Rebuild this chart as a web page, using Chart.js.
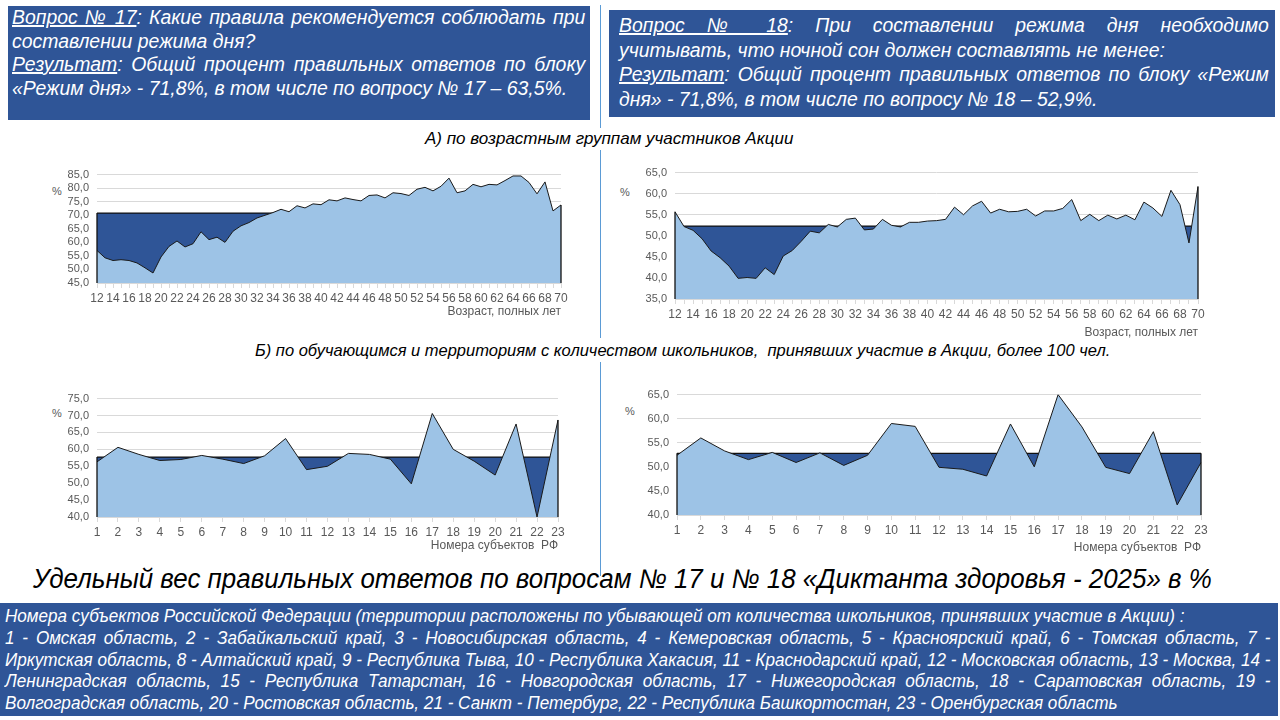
<!DOCTYPE html>
<html lang="ru">
<head>
<meta charset="utf-8">
<title>Диктант здоровья - 2025</title>
<script src="https://cdn.jsdelivr.net/npm/chart.js@4.4.1/dist/chart.umd.min.js"></script>
<style>
  html, body { margin: 0; padding: 0; background: #fff; }
  body { width: 1280px; height: 720px; position: relative; overflow: hidden;
         font-family: "Liberation Sans", "DejaVu Sans", sans-serif; }
  .box { position: absolute; background: #2F5597; color: #fff; font-style: italic; box-sizing: border-box; overflow: hidden; }
  .cond { transform-origin: left top; }
  .ln { white-space: nowrap; }
  .j { text-align: justify; text-align-last: justify; }
  .note { position: absolute; font-style: italic; color: #000; white-space: nowrap; transform-origin: left top; }
  .pct { position: absolute; font-size: 11px; color: #595959; }
  .chart { position: absolute; }
  .vline { position: absolute; left: 600px; width: 1px; background: #5B9BD5; }
</style>
</head>
<body>

<div class="box" style="left:8px;top:6px;width:582px;height:114px;padding:0 5px 0 4px;font-size:20px;line-height:23.5px;">
  <div class="cond" style="width:591px;transform:scaleX(0.97);">
    <div class="ln j"><u>Вопрос № 17</u>: Какие правила рекомендуется соблюдать при</div>
    <div class="ln">составлении режима дня?</div>
    <div class="ln j"><u>Результат</u>: Общий процент правильных ответов по блоку</div>
    <div class="ln">«Режим дня» - 71,8%, в том числе по вопросу № 17 – 63,5%.</div>
  </div>
</div>

<div class="box" style="left:609px;top:10px;width:666px;height:107px;padding:3px 6px 0 10px;font-size:20px;line-height:24.7px;">
  <div class="cond" style="width:670px;transform:scaleX(0.97);">
    <div class="ln j"><u>Вопрос № 18</u>: При составлении режима дня необходимо</div>
    <div class="ln">учитывать, что ночной сон должен составлять не менее:</div>
    <div class="ln j"><u>Результат</u>: Общий процент правильных ответов по блоку «Режим</div>
    <div class="ln">дня» - 71,8%, в том числе по вопросу № 18 – 52,9%.</div>
  </div>
</div>

<div class="vline" style="top:5px;height:123px;"></div>
<div class="vline" style="top:150px;height:188px;"></div>
<div class="vline" style="top:362px;height:214px;"></div>

<div class="note" style="left:425px;top:129px;font-size:17px;">А) по возрастным группам участников Акции</div>
<div class="note" style="left:255px;top:341px;font-size:17px;transform:scaleX(0.97);">Б) по обучающимся и территориям с количеством школьников,&nbsp; принявших участие в Акции, более 100 чел.</div>

<div class="pct" style="left:52px;top:185px;">%</div>
<div class="pct" style="left:620px;top:186px;">%</div>
<div class="pct" style="left:52px;top:407px;">%</div>
<div class="pct" style="left:625px;top:405px;">%</div>

<div class="chart" style="left:40px;top:160px;width:540px;height:159px;"><canvas id="c1"></canvas></div>
<div class="chart" style="left:615px;top:158px;width:600px;height:182px;"><canvas id="c2"></canvas></div>
<div class="chart" style="left:40px;top:384px;width:540px;height:169px;"><canvas id="c3"></canvas></div>
<div class="chart" style="left:615px;top:380px;width:600px;height:175px;"><canvas id="c4"></canvas></div>

<div class="note" style="left:33px;top:564px;font-size:27px;transform:scaleX(0.96);">Удельный вес правильных ответов по вопросам № 17 и № 18 «Диктанта здоровья - 2025» в %</div>

<div class="box" style="left:0;top:603px;width:1278px;height:113px;padding:3px 6px 0 5px;font-size:18px;line-height:21.8px;">
  <div class="cond" style="width:1332px;transform:scaleX(0.95);">
    <div class="ln">Номера субъектов Российской Федерации (территории расположены по убывающей от количества школьников, принявших участие в Акции) :</div>
    <div class="ln j">1 - Омская область, 2 - Забайкальский край, 3 - Новосибирская область, 4 - Кемеровская область, 5 - Красноярский край, 6 - Томская область, 7 -</div>
    <div class="ln j">Иркутская область, 8 - Алтайский край, 9 - Республика Тыва, 10 - Республика Хакасия, 11 - Краснодарский край, 12 - Московская область, 13 - Москва, 14 -</div>
    <div class="ln j">Ленинградская область, 15 - Республика Татарстан, 16 - Новгородская область, 17 - Нижегородская область, 18 - Саратовская область, 19 -</div>
    <div class="ln">Волгоградская область, 20 - Ростовская область, 21 - Санкт - Петербург, 22 - Республика Башкортостан, 23 - Оренбургская область</div>
  </div>
</div>

<script>
// возраст, полных лет
var ages = [12, 13, 14, 15, 16, 17, 18, 19, 20, 21, 22, 23, 24, 25, 26, 27, 28, 29, 30,
            31, 32, 33, 34, 35, 36, 37, 38, 39, 40, 41, 42, 43, 44, 45, 46, 47, 48, 49, 50,
            51, 52, 53, 54, 55, 56, 57, 58, 59, 60, 61, 62, 63, 64, 65, 66, 67, 68, 69, 70];
// номера субъектов РФ
var regions = [1, 2, 3, 4, 5, 6, 7, 8, 9, 10, 11, 12, 13, 14, 15, 16, 17, 18, 19, 20, 21, 22, 23];

// вопрос 17 по возрасту, %
var q17ByAge = [57.0, 54.3, 53.3, 53.6, 53.3, 52.4, 50.6, 48.7, 54.6, 58.5, 60.5, 58.3, 59.5, 63.9, 61.0, 61.9, 60.0, 64.1, 66.1,
                67.3, 69.0, 70.0, 71.0, 72.2, 71.3, 73.5, 72.7, 74.2, 73.9, 75.7, 75.3, 76.4, 75.8, 75.3, 77.3, 77.5, 76.4, 78.3, 78.0,
                77.3, 79.6, 80.3, 79.0, 80.7, 83.7, 78.3, 79.0, 81.4, 80.5, 81.4, 81.2, 82.8, 84.5, 84.5, 82.1, 77.9, 82.3, 71.6, 73.8];
var q17AgeLevel = 70.8;

// вопрос 18 по возрасту, %
var q18ByAge = [55.7, 52.2, 51.3, 49.3, 46.4, 44.8, 42.8, 39.9, 40.1, 39.9, 42.4, 40.8, 45.2, 46.5, 48.7, 51.1, 50.7, 52.7, 52.1,
                53.9, 54.2, 51.4, 51.6, 53.9, 52.5, 52.1, 53.2, 53.2, 53.5, 53.6, 53.9, 56.8, 55.0, 57.1, 58.2, 55.4, 56.3, 55.7, 55.8,
                56.3, 54.7, 55.9, 55.9, 56.5, 58.6, 53.6, 55.1, 53.6, 54.9, 54.0, 54.9, 53.8, 58.0, 56.6, 54.6, 60.8, 57.4, 48.3, 61.7];
var q18AgeLevel = 52.3;

// по субъектам РФ, %
var q17ByRegion = [56.3, 60.6, 58.5, 56.7, 57.0, 58.2, 57.1, 55.8, 58.1, 63.2, 54.0, 55.0, 58.8, 58.5, 57.1, 49.8, 70.6, 60.0, 56.5, 52.4, 67.5, 40.0, 68.7];
var q17RegionLevel = 57.7;
var q18ByRegion = [52.4, 56.0, 53.3, 51.5, 53.0, 50.9, 52.9, 50.3, 52.4, 59.0, 58.4, 49.9, 49.5, 48.1, 58.9, 50.0, 65.0, 58.3, 49.9, 48.6, 57.3, 42.1, 50.9];
var q18RegionLevel = 52.8;

var LIGHT = "#9DC3E6";
var DARK = "#2F5597";
var GRID = "#D9D9D9";
var TEXT = "#595959";

Chart.defaults.font.family = '"Liberation Sans", "DejaVu Sans", sans-serif';
Chart.defaults.color = TEXT;

// чёрные вертикали по краям областей, как в Excel
var edgePlugin = {
    id: "edges",
    afterDatasetsDraw: function (chart) {
        var ctx = chart.ctx;
        var bottom = chart.chartArea.bottom;
        var a = chart.getDatasetMeta(0).data;
        var b = chart.getDatasetMeta(1).data;
        [0, a.length - 1].forEach(function (i) {
            ctx.save();
            ctx.strokeStyle = "#111";
            ctx.lineWidth = 1.3;
            ctx.beginPath();
            ctx.moveTo(a[i].x, bottom);
            ctx.lineTo(a[i].x, Math.min(a[i].y, b[i].y));
            ctx.stroke();
            ctx.restore();
        });
    }
};

var makeChart = function (id, labels, values, level, yMin, yMax, cfg) {
    var levelLine = labels.map(function () { return level; });
    return new Chart(document.getElementById(id).getContext("2d"), {
        type: "line",
        data: {
            labels: labels,
            datasets: [
                {
                    data: values,
                    fill: "start",
                    backgroundColor: LIGHT,
                    borderColor: "#1a1a1a",
                    borderWidth: 1,
                    pointRadius: 0,
                    tension: 0
                },
                {
                    data: levelLine,
                    fill: "start",
                    backgroundColor: DARK,
                    borderColor: "#111",
                    borderWidth: 1.2,
                    pointRadius: 0,
                    tension: 0
                }
            ]
        },
        options: {
            responsive: true,
            maintainAspectRatio: false,
            animation: false,
            layout: { padding: { top: 14, right: cfg.padRight, left: 0, bottom: 0 } },
            plugins: { legend: { display: false }, tooltip: { enabled: false } },
            scales: {
                x: {
                    grid: { display: true, drawOnChartArea: false, drawTicks: true, tickLength: 5, color: GRID },
                    border: { display: true, color: GRID },
                    ticks: {
                        autoSkip: false,
                        maxRotation: 0,
                        padding: 3,
                        font: { size: 12 },
                        callback: function (v, i) {
                            return (cfg.everyOther && i % 2 === 1) ? "" : this.getLabelForValue(v);
                        }
                    },
                    title: {
                        display: true,
                        text: cfg.xTitle,
                        align: "end",
                        color: TEXT,
                        font: { size: 12 },
                        padding: { top: 0, bottom: 0 }
                    },
                    afterFit: function (scale) { scale.height = cfg.xHeight; }
                },
                y: {
                    min: yMin,
                    max: yMax,
                    grid: { color: GRID, drawTicks: false },
                    border: { display: false },
                    ticks: {
                        stepSize: 5,
                        autoSkip: false,
                        padding: 8,
                        font: { size: 11 },
                        callback: function (v) { return v.toFixed(1).replace(".", ","); }
                    },
                    afterFit: function (scale) { scale.width = cfg.yWidth; }
                }
            }
        },
        plugins: [edgePlugin]
    });
};

makeChart("c1", ages, q17ByAge, q17AgeLevel, 45, 85,
    { everyOther: true, xTitle: "Возраст, полных лет", padRight: 19, yWidth: 57, xHeight: 36 });
makeChart("c2", ages, q18ByAge, q18AgeLevel, 35, 65,
    { everyOther: true, xTitle: "Возраст, полных лет", padRight: 17, yWidth: 60, xHeight: 41 });
makeChart("c3", regions, q17ByRegion, q17RegionLevel, 40, 75,
    { everyOther: false, xTitle: "Номера субъектов  РФ", padRight: 22, yWidth: 57, xHeight: 36 });
makeChart("c4", regions, q18ByRegion, q18RegionLevel, 40, 65,
    { everyOther: false, xTitle: "Номера субъектов  РФ", padRight: 14, yWidth: 62, xHeight: 40 });
</script>
</body>
</html>
